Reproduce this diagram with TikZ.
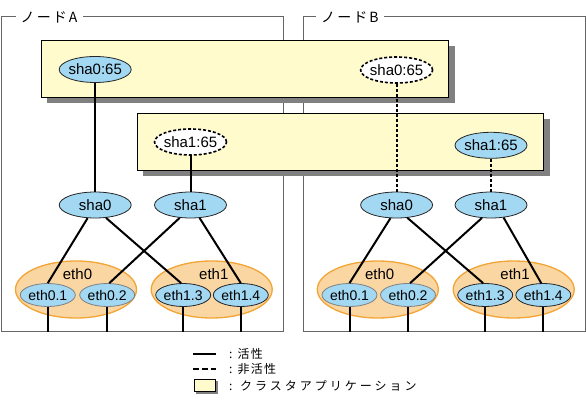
\documentclass[tikz,border=0pt]{standalone}
\usepackage{fontspec}
\setmainfont{Liberation Sans}
\newfontfamily\jpt[LetterSpace=15]{Noto Sans CJK JP}
\newfontfamily\jpa[LetterSpace=10]{Noto Sans CJK JP}
\newfontfamily\jpb[LetterSpace=25]{Noto Sans CJK JP}
\usetikzlibrary{shapes.geometric,shadows}
\definecolor{bluef}{HTML}{A3D8F3}
\definecolor{yel}{HTML}{FFFBCC}
\definecolor{orf}{HTML}{FAD6A3}
\definecolor{ord}{HTML}{F2A435}
\definecolor{frm}{HTML}{666666}
\definecolor{shd}{HTML}{808080}
\newcommand{\zb}[1]{\makebox[0pt]{#1}}
\begin{document}
\begin{tikzpicture}[x=1pt,y=-1pt,
 nodeframe/.style={draw=frm, line width=1pt, rectangle, minimum width=282pt, minimum height=314.5pt, inner sep=0pt},
 ttl/.style={fill=white, inner xsep=5pt, inner ysep=0pt, anchor=west, font=\jpt\fontsize{14}{14}\selectfont},
 appbox/.style={draw=black, line width=0.8pt, fill=yel, rectangle, inner sep=0pt, minimum height=57pt, drop shadow={shadow xshift=6pt, shadow yshift=-6pt, fill=shd, opacity=1}},
 legbox/.style={draw=black, line width=0.8pt, fill=yel, rectangle, inner sep=0pt, minimum width=21.5pt, minimum height=12.5pt, drop shadow={shadow xshift=2pt, shadow yshift=-2pt, fill=shd, opacity=1}},
 sha/.style={ellipse, draw=black!85, line width=0.8pt, fill=bluef, inner sep=0pt, minimum width=72pt, minimum height=26pt, font=\fontsize{15}{15}\selectfont},
 shaoff/.style={sha, fill=white, draw=black, line width=1.6pt, dash pattern=on 3pt off 2pt},
 grp/.style={ellipse, draw=ord, line width=1.3pt, fill=orf, inner sep=0pt, minimum width=121pt, minimum height=57pt},
 glab/.style={font=\fontsize{15}{15}\selectfont, inner sep=0pt},
 subif/.style={ellipse, draw=black!85, line width=0.8pt, fill=bluef, inner sep=0pt, minimum width=55pt, minimum height=23pt, font=\fontsize{14}{14}\selectfont},
 subifg/.style={subif, draw=black!50},
 actline/.style={line width=2pt},
 inactline/.style={line width=2pt, dash pattern=on 3pt off 2pt},
 leg/.style={anchor=west, inner sep=0pt}
]
\useasboundingbox (0,0) rectangle (586,406);
% frames
\node[nodeframe] (frA) at (142,174.25) {};
\node[nodeframe] (frB) at (444,174.25) {};
\node[ttl] (tA) at (15.5,17) {ノードA};
\node[ttl] (tB) at (316,17) {ノードB};
% application boxes
\node[appbox, minimum width=407.5pt] (app0) at (244.75,69) {};
\node[appbox, minimum width=406.5pt] (app1) at (340.25,141.7) {};
% virtual interfaces
\node[sha] (vA0) at (95.2,69.5) {\zb{sha0:65}};
\node[shaoff] (vB0) at (396.6,70) {\zb{sha0:65}};
\node[shaoff] (vA1) at (190.5,142) {\zb{sha1:65}};
\node[sha] (vB1) at (491,145.3) {\zb{sha1:65}};
% sha
\node[sha] (sA0) at (95.2,205) {\zb{sha0}};
\node[sha] (sA1) at (190.5,205) {\zb{sha1}};
\node[sha] (sB0) at (396.6,205) {\zb{sha0}};
\node[sha] (sB1) at (491,205) {\zb{sha1}};
% groups
\node[grp] (gA0) at (76,289.5) {};
\node[grp] (gA1) at (211.7,289.5) {};
\node[grp] (gB0) at (377.8,289.5) {};
\node[grp] (gB1) at (513.7,289.5) {};
\node[glab] (lA0) at (77.5,274) {eth0};
\node[glab] (lA1) at (213.8,274) {eth1};
\node[glab] (lB0) at (379.7,274) {eth0};
\node[glab] (lB1) at (515,274) {eth1};
% sub interfaces
\node[subifg] (eA01) at (47.8,295) {\zb{eth0.1}};
\node[subifg] (eA02) at (107.2,295) {\zb{eth0.2}};
\node[subif] (eA13) at (183.2,295) {\zb{eth1.3}};
\node[subif] (eA14) at (240.8,295) {\zb{eth1.4}};
\node[subifg] (eB01) at (349.5,295) {\zb{eth0.1}};
\node[subifg] (eB02) at (408,295) {\zb{eth0.2}};
\node[subif] (eB13) at (485.2,295) {\zb{eth1.3}};
\node[subif] (eB14) at (543.3,295) {\zb{eth1.4}};
% connectors
\draw[actline] (vA0) -- (sA0);
\draw[actline] (vA1) -- (sA1);
\draw[inactline] (vB0) -- (sB0);
\draw[inactline] (vB1) -- (sB1);
\draw[actline] (sA0.240) -- (eA01.north);
\draw[actline] (sA0.310) -- (eA13.100);
\draw[actline] (sA1.230) -- (eA02.80);
\draw[actline] (sA1.305) -- (eA14.north);
\draw[actline] (sB0.245) -- (eB01.north);
\draw[actline] (sB0.310) -- (eB13.100);
\draw[actline] (sB1.235) -- (eB02.80);
\draw[actline] (sB1.315) -- (eB14.100);
\foreach \n in {eA01,eA02,eA13,eA14}{\draw[actline] (\n.south) -- (\n.south |- frA.south);}
\foreach \n in {eB01,eB02,eB13,eB14}{\draw[actline] (\n.south) -- (\n.south |- frB.south);}
% legend
\coordinate (l1a) at (193,354); \coordinate (l1b) at (216,354);
\coordinate (l2a) at (193,369); \coordinate (l2b) at (216,369);
\draw[line width=1.7pt] (l1a) -- (l1b);
\draw[line width=1.7pt, dash pattern=on 6pt off 2.8pt] (l2a) -- (l2b);
\node[legbox] (lbx) at (205,385.3) {};
\node[leg, font=\jpa\fontsize{12}{12}\selectfont] (t1) at (229,354) {: 活性};
\node[leg, font=\jpa\fontsize{12}{12}\selectfont] (t2) at (229,369) {: 非活性};
\node[leg, font=\jpb\fontsize{12}{12}\selectfont] (t3) at (229,386) {: クラスタアプリケーション};
\end{tikzpicture}
\end{document}
